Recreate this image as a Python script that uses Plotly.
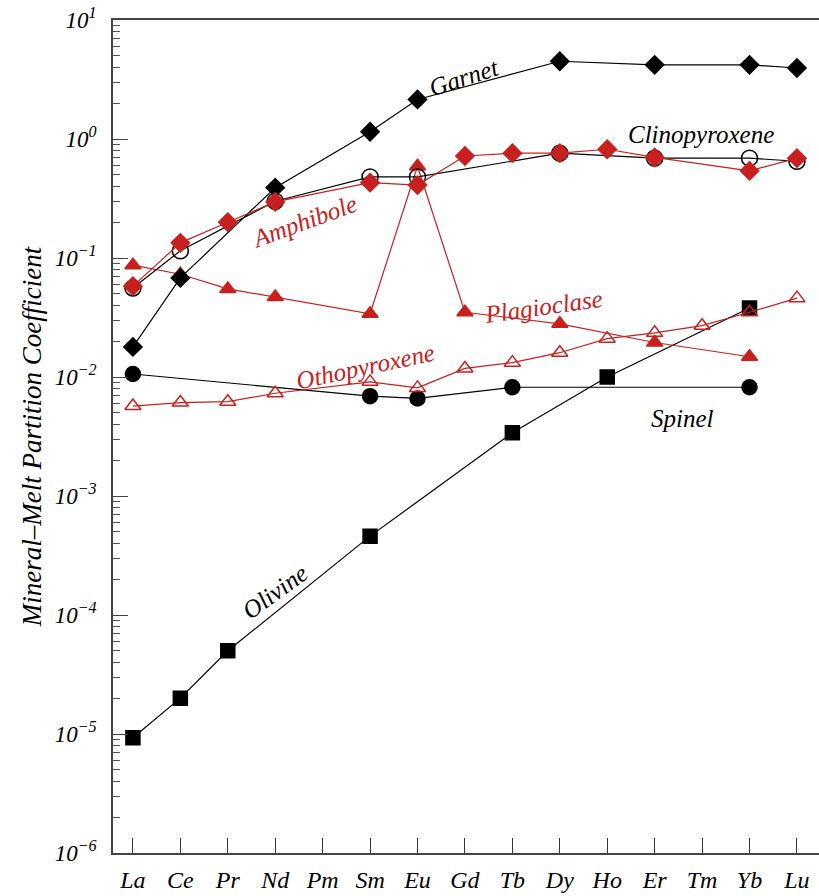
import plotly.graph_objects as go

elements = ["La", "Ce", "Pr", "Nd", "Pm", "Sm", "Eu", "Gd", "Tb", "Dy", "Ho", "Er", "Tm", "Yb", "Lu"]
N = None
garnet        = [0.0179, 0.068, N, 0.39, N, 1.15, 2.15, N, N, 4.5, N, 4.2, N, 4.2, 3.95]
clinopyroxene = [0.056, 0.115, N, 0.30, N, 0.48, 0.48, N, N, 0.76, N, 0.69, N, 0.69, 0.65]
amphibole     = [0.058, 0.134, 0.20, 0.296, N, 0.43, 0.41, 0.72, 0.76, 0.76, 0.82, 0.70, N, 0.54, 0.69]
plagioclase   = [0.087, 0.073, 0.055, 0.047, N, 0.034, 0.59, 0.035, N, 0.028, N, 0.0195, N, 0.0148, N]
orthopyroxene = [0.0057, 0.0061, 0.0062, 0.0073, N, 0.0091, 0.0081, 0.0118, 0.0132, 0.016, 0.021, 0.0235, 0.027, 0.035, 0.046]
spinel        = [0.0106, N, N, N, N, 0.0069, 0.0066, N, 0.0082, N, N, N, N, 0.0082, N]
olivine       = [9.3e-6, 2.0e-5, 5.0e-5, N, N, 4.6e-4, N, N, 0.0034, N, 0.0100, N, N, 0.038, N]

y_tickvals = [1e-6, 1e-5, 1e-4, 1e-3, 1e-2, 1e-1, 1e0, 1e1]
y_ticktext = ["10<sup>−6</sup>", "10<sup>−5</sup>", "10<sup>−4</sup>", "10<sup>−3</sup>",
              "10<sup>−2</sup>", "10<sup>−1</sup>", "10<sup>0</sup>", "10<sup>1</sup>"]

RED = "#c8201e"
BLK = "#000000"
FONT = "Liberation Serif, Times New Roman, serif"

x = list(range(len(elements)))

def add(vals, color, symbol, size, name):
    fig.add_trace(go.Scatter(
        x=x, y=vals, mode="lines+markers", name=name, connectgaps=True,
        line=dict(color=color, width=1.2),
        marker=dict(symbol=symbol, size=size, color=color,
                    line=dict(color=color, width=1.5)),
    ))

fig = go.Figure()
add(olivine, BLK, "square", 14, "Olivine")
add(spinel, BLK, "circle", 15, "Spinel")
add(orthopyroxene, RED, "triangle-up-open", 14, "Orthopyroxene")
add(plagioclase, RED, "triangle-up", 14, "Plagioclase")
add(clinopyroxene, BLK, "circle-open", 16, "Clinopyroxene")
add(garnet, BLK, "diamond", 14, "Garnet")
add(amphibole, RED, "diamond", 14, "Amphibole")

labels = [
    ("Garnet", 6.97, 0.52, -18, BLK),
    ("Clinopyroxene", 11.97, 0.04, 0, BLK),
    ("Amphibole", 3.6, -0.69, -20, RED),
    ("Plagioclase", 8.65, -1.41, -8, RED),
    ("Othopyroxene", 4.9, -1.91, -12, RED),
    ("Spinel", 11.58, -2.35, 0, BLK),
    ("Olivine", 3.0, -3.8, -36, BLK),
]
for txt, lx, ly, ang, col in labels:
    fig.add_annotation(x=lx, y=ly, text=txt, showarrow=False, textangle=ang,
                       font=dict(family=FONT, size=25, color=col, style="italic"))

fig.update_layout(
    width=819, height=896,
    margin=dict(l=113, r=0, t=20, b=43, autoexpand=False),
    plot_bgcolor="white", paper_bgcolor="white",
    showlegend=False,
    font=dict(family=FONT, color="black", style="italic"),
)
fig.update_xaxes(
    automargin=False,
    range=[-0.42, 14.465], tickvals=x, ticktext=elements,
    ticks="inside", ticklen=15, tickwidth=1.2, tickcolor="#333",
    showline=True, linecolor="#444", linewidth=1.5, mirror=True,
    showgrid=False, zeroline=False, ticklabelstandoff=4,
    tickfont=dict(family=FONT, size=24, style="italic"),
)
fig.update_yaxes(
    automargin=False,
    type="log", range=[-6, 1],
    tickvals=y_tickvals, ticktext=y_ticktext,
    ticks="inside", ticklen=15, tickwidth=1.2, tickcolor="#444",
    minor=dict(ticks="inside", ticklen=7, tickwidth=1.2, tickcolor="#555", dtick="D1", showgrid=False),
    showline=True, linecolor="#444", linewidth=1.5,
    showgrid=False, zeroline=False, ticklabelstandoff=10,
    tickfont=dict(family=FONT, size=23, style="italic"),
    title=dict(text="Mineral–Melt Partition Coefficient",
               font=dict(family=FONT, size=27, style="italic"), standoff=5),
)

fig.write_html("out.html", config={"displayModeBar": False},
               post_script="document.body.style.margin='0';document.body.style.padding='0';")
